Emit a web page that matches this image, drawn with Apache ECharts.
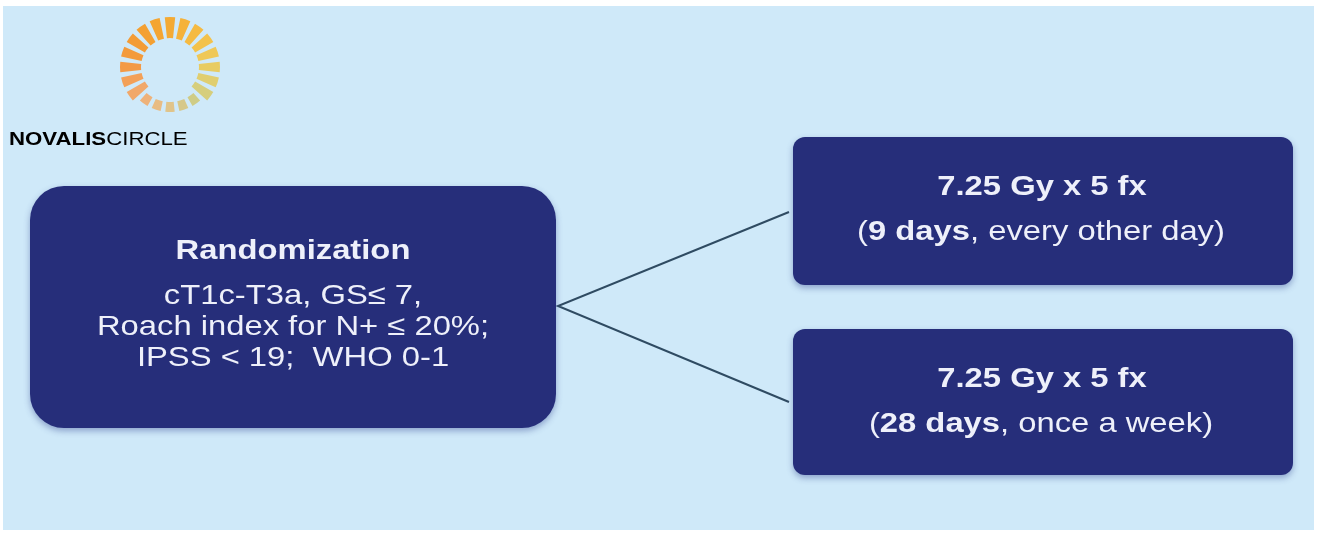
<!DOCTYPE html>
<html>
<head>
<meta charset="utf-8">
<script src="https://cdn.jsdelivr.net/npm/echarts@6/dist/echarts.min.js"></script>
<style>
  html, body { margin: 0; padding: 0; background: #ffffff; }
  #chart { width: 1321px; height: 533px; }
</style>
</head>
<body>
<div id="chart"></div>
<script>
// texts of the diagram
const randomTitle = "Randomization";
const randomCriteria = ["cT1c-T3a, GS\u2264 7,", "Roach index for N+ \u2264 20%;", "IPSS < 19;  WHO 0-1"];
const armDose = ["7.25 Gy x 5 fx", "7.25 Gy x 5 fx"];
const armDays = ["9 days", "28 days"];
const armSchedule = [", every other day)", ", once a week)"];
const logoBold = "NOVALIS";
const logoLight = "CIRCLE";
// sun dashes of the logo, clockwise from the top
const sunColors = [
  "#f4aa34", "#f5b23a", "#f5ba42", "#f3c24c", "#efc858",
  "#e8cc62", "#e0ce70", "#d6ce7c", "#cfcc86", "#d6c88a",
  "#e0c48a", "#e8bc84", "#eeb27a", "#f1a86a", "#f3a058",
  "#f39a46", "#f39a3c", "#f39c36", "#f4a032", "#f4a532"
];
// which dashes are the short dots at the bottom
const sunShort = [0, 0, 0, 0, 0, 0, 0, 0, 1, 1, 1, 1, 1, 0, 0, 0, 0, 0, 0, 0];

const FONT = '"Liberation Sans", Arial, sans-serif';
const NAVY = "#262e7a";
const TXT = "#eef0fa";
const SX = 1.17; // the slide is a bit stretched sideways

const chart = echarts.init(document.getElementById("chart"));

function box(x, y, w, h, r) {
  return {
    type: "rect",
    shape: { x: x, y: y, width: w, height: h, r: r },
    style: {
      fill: NAVY,
      shadowColor: "rgba(60,80,150,0.45)",
      shadowBlur: 6,
      shadowOffsetY: 3
    },
    silent: true
  };
}

function label(text, x, y, size, bold, rich) {
  return {
    type: "text",
    x: x,
    y: y,
    scaleX: SX,
    silent: true,
    style: {
      text: text,
      rich: rich,
      fill: TXT,
      font: (bold ? "bold " : "") + size + "px " + FONT,
      align: "center",
      verticalAlign: "middle"
    }
  };
}

const richArm = {
  n: { fontFamily: FONT, fontSize: 28, color: TXT },
  b: { fontFamily: FONT, fontSize: 28, fontWeight: "bold", color: TXT }
};

const elements = [
  {
    type: "rect",
    shape: { x: 3, y: 6, width: 1311, height: 524 },
    style: { fill: "#cfe9f9" },
    silent: true
  },
  // connectors
  {
    type: "polyline",
    shape: { points: [[789, 212], [558, 306], [789, 402]] },
    style: { stroke: "#2f4b62", lineWidth: 2, fill: null },
    silent: true
  },
  box(30, 186, 526, 242, 34),
  box(793, 137, 500, 148, 12),
  box(793, 329, 500, 146, 12),
  label(randomTitle, 293, 251, 28, true)
];

randomCriteria.forEach(function (t, i) {
  elements.push(label(t, 293, 296 + i * 31, 28, false));
});

[0, 1].forEach(function (i) {
  const top = i === 0 ? 137 : 329;
  elements.push(label(armDose[i], 1042, top + 50, 28, true));
  elements.push(label(
    "{n|(}{b|" + armDays[i] + "}{n|" + armSchedule[i] + "}",
    1041, top + 95, 28, false, richArm
  ));
});

// logo word
elements.push({
  type: "text",
  x: 9,
  y: 140,
  scaleX: SX,
  silent: true,
  style: {
    text: "{b|" + logoBold + "}{n|" + logoLight + "}",
    verticalAlign: "middle",
    rich: {
      b: { fontFamily: FONT, fontSize: 19, fontWeight: "bold", color: "#1c2838" },
      n: { fontFamily: FONT, fontSize: 19, color: "#1c2838" }
    }
  }
});

function sunRing(radius, short) {
  return {
    type: "pie",
    z: 10,
    silent: true,
    center: [170, 67],
    radius: radius,
    startAngle: 99,
    padAngle: 6,
    label: { show: false },
    labelLine: { show: false },
    itemStyle: { borderWidth: 0 },
    data: sunColors.map(function (c, i) {
      return {
        value: 1,
        itemStyle: { color: sunShort[i] === short ? c : "transparent" }
      };
    })
  };
}

chart.setOption({
  animation: false,
  graphic: { elements: elements },
  series: [sunRing([29, 50], 0), sunRing([35, 45], 1)]
});
</script>
</body>
</html>
